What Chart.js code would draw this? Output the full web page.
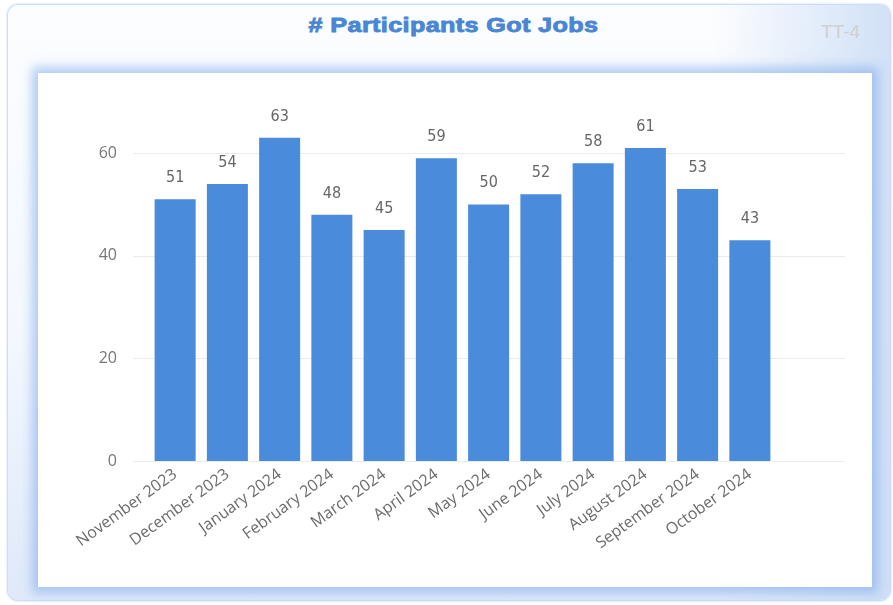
<!DOCTYPE html>
<html>
<head>
<meta charset="utf-8">
<script src="https://cdn.jsdelivr.net/npm/chart.js@4.4.1/dist/chart.umd.min.js"></script>
<style>
  html, body { margin: 0; padding: 0; background: #ffffff; }
  body { width: 893px; height: 605px; position: relative; overflow: hidden; }
  #card {
    position: absolute; left: 8px; top: 5px; width: 882px; height: 595px;
    border-radius: 10px;
    background:
      linear-gradient(90deg, rgba(255,255,255,0) 80%, rgba(205,222,246,0.9) 100%),
      linear-gradient(180deg, #fcfdff 0%, #f4f8fe 55%, #dfe9f9 100%);
    box-shadow: 0 0 2px 1px rgba(170, 198, 238, 0.8);
  }
  #title {
    position: absolute; left: 7px; width: 893px; top: 13px; text-align: center;
    font-family: "Liberation Sans", Arial, sans-serif; font-weight: bold; font-size: 21px;
    color: #4a86d3; letter-spacing: 0.3px;
    -webkit-text-stroke: 0.9px #4a86d3;
    transform: scaleX(1.2); transform-origin: 446.5px 0;
  }
  #tag {
    position: absolute; left: 821px; top: 21px;
    font-family: "Liberation Sans", Arial, sans-serif; font-size: 19px; color: #d0d0d0;
  }
  #panel {
    position: absolute; left: 38px; top: 73px; width: 834px; height: 514px;
    background: #ffffff;
    box-shadow: 0 0 10px 6px rgba(120, 165, 235, 0.55);
  }
  #chart { position: absolute; left: 0; top: 0; }
</style>
</head>
<body>
<div id="card"></div>
<div id="title"># Participants Got Jobs</div>
<div id="tag">TT-4</div>
<div id="panel"><canvas id="chart" width="834" height="514"></canvas></div>
<script>
const months = ["November 2023", "December 2023", "January 2024", "February 2024", "March 2024", "April 2024",
  "May 2024", "June 2024", "July 2024", "August 2024", "September 2024", "October 2024"];
const gotJobs = [51, 54, 63, 48, 45, 59, 50, 52, 58, 61, 53, 43];
const yTicks = [0, 20, 40, 60];

// gridlines run a bit wider than the bars, like the original
const wideGrid = {
  id: "wideGrid",
  beforeDatasetsDraw(chart) {
    const ctx = chart.ctx;
    const y = chart.scales.y;
    ctx.save();
    ctx.strokeStyle = "#ebebeb";
    ctx.lineWidth = 1;
    yTicks.forEach(v => {
      const py = Math.round(y.getPixelForValue(v)) + 0.5;
      ctx.beginPath();
      ctx.moveTo(95, py);
      ctx.lineTo(807, py);
      ctx.stroke();
    });
    ctx.restore();
  }
};

const barLabels = {
  id: "barLabels",
  afterDatasetsDraw(chart) {
    const ctx = chart.ctx;
    const meta = chart.getDatasetMeta(0);
    ctx.save();
    ctx.fillStyle = "#666";
    ctx.font = "16px 'DejaVu Sans Condensed', 'DejaVu Sans', sans-serif";
    ctx.textAlign = "center";
    ctx.textBaseline = "alphabetic";
    meta.data.forEach((bar, i) => {
      ctx.fillText(String(gotJobs[i]), bar.x, bar.y - 17);
    });
    ctx.restore();
  }
};

new Chart(document.getElementById("chart"), {
  type: "bar",
  data: {
    labels: months,
    datasets: [{
      label: "# Participants Got Jobs",
      data: gotJobs,
      backgroundColor: "#4a8bdb",
      borderWidth: 0,
      categoryPercentage: 1,
      barPercentage: 0.785
    }]
  },
  options: {
    responsive: false,
    animation: false,
    layout: { padding: { top: 19, right: 96, left: 0, bottom: 0 } },
    plugins: {
      legend: { display: false },
      tooltip: { enabled: false },
      title: { display: false }
    },
    scales: {
      x: {
        grid: { display: false, drawTicks: false },
        border: { display: false },
        afterFit: s => { s.height = 126; },
        ticks: {
          color: "#6b6b6b",
          font: { family: "'Open Sans', 'Noto Sans', sans-serif", size: 16 },
          minRotation: 36,
          maxRotation: 36,
          padding: 4,
          autoSkip: false
        }
      },
      y: {
        min: 0,
        max: 67.5,
        grid: { display: false, drawTicks: false },
        border: { display: false },
        afterFit: s => { s.width = 111; },
        afterBuildTicks: s => { s.ticks = yTicks.map(v => ({ value: v })); },
        ticks: {
          color: "#777",
          font: { family: "'Open Sans', 'Noto Sans', sans-serif", size: 16 },
          padding: 32
        }
      }
    }
  },
  plugins: [wideGrid, barLabels]
});
</script>
</body>
</html>
